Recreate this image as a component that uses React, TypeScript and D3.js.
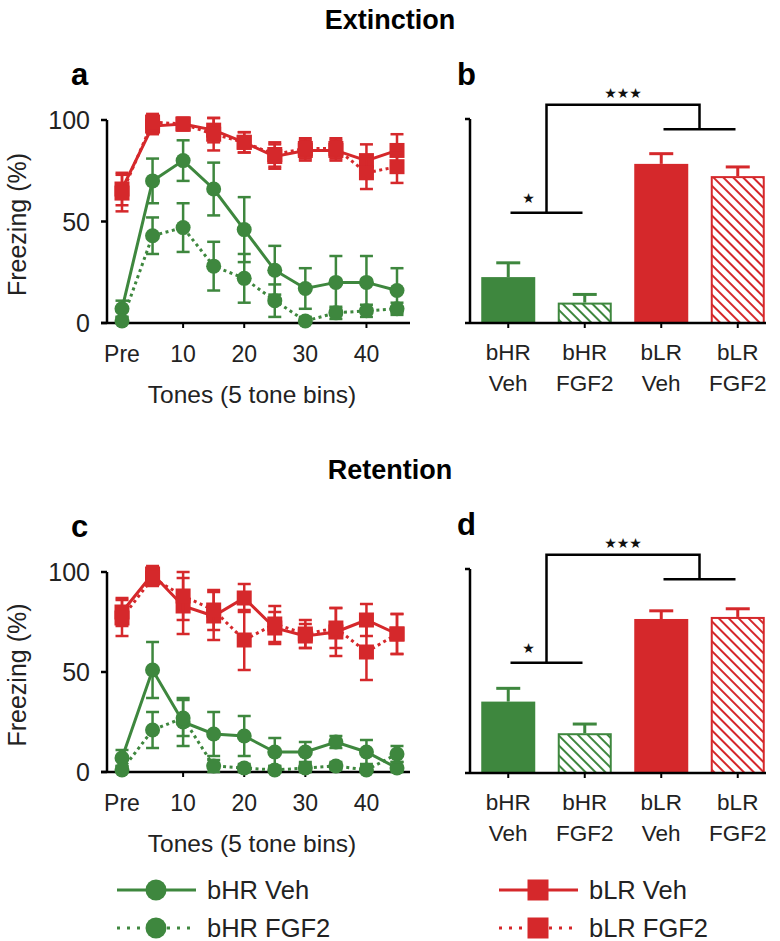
import React from 'react';
import * as d3 from 'd3';

const GREEN = '#3e873e';
const RED = '#d5282b';
const FONT = '"Liberation Sans", Arial, sans-serif';

// x positions of the line panels (5 tone bins, "Pre" = 0)
const toneBins = [0, 5, 10, 15, 20, 25, 30, 35, 40, 45];
const toneTicks = [0, 10, 20, 30, 40];
const toneTickLabels = ['Pre', '10', '20', '30', '40'];
const yTicks = [0, 50, 100];

// extinction (panel a)
const extHRVeh = [7, 70, 80, 66, 46, 26, 17, 20, 20, 16];
const extHRVehErr = [4, 11, 10, 13, 16, 12, 10, 13, 13, 11];
const extHRFgf = [1, 43, 47, 28, 22, 11, 1, 5, 6, 7];
const extHRFgfErr = [2, 9, 12, 12, 12, 8, 2, 3, 3, 3];
const extLRVeh = [66, 97, 98, 95, 89, 82, 85, 85, 80, 85];
const extLRVehErr = [8, 4, 3, 6, 5, 6, 5, 5, 8, 8];
const extLRFgf = [64, 99, 98, 93, 89, 83, 86, 86, 74, 77];
const extLRFgfErr = [9, 4, 3, 8, 5, 6, 5, 5, 8, 8];

// retention (panel c)
const retHRVeh = [7, 51, 25, 19, 18, 10, 10, 15, 10, 2];
const retHRVehErr = [4, 14, 12, 11, 10, 7, 5, 3, 6, 3];
const retHRFgf = [1, 21, 27, 3, 2, 1, 2, 3, 1, 9];
const retHRFgfErr = [2, 9, 9, 3, 2, 2, 2, 2, 2, 4];
const retLRVeh = [80, 99, 83, 78, 87, 72, 68, 70, 76, 69];
const retLRVehErr = [7, 4, 14, 12, 7, 8, 6, 12, 8, 10];
const retLRFgf = [77, 97, 88, 81, 66, 74, 69, 72, 60, 69];
const retLRFgfErr = [9, 4, 12, 10, 15, 9, 7, 10, 14, 10];

// bar panels (b, d)
const groups = ['bHR Veh', 'bHR FGF2', 'bLR Veh', 'bLR FGF2'];
const groupLine1 = ['bHR', 'bHR', 'bLR', 'bLR'];
const groupLine2 = ['Veh', 'FGF2', 'Veh', 'FGF2'];
const extBars = [22.5, 10, 78, 72];
const extBarsErr = [7, 4, 5, 4.5];
const retBars = [35, 19.5, 75.5, 76.5];
const retBarsErr = [6.5, 4.5, 4, 4];
// significance bracket levels (in % units)
const bracketLow = 54;
const bracketHigh = 95;
const bracketTop = 107;

type Series = { mean: number[]; err: number[]; color: string; dotted: boolean; square: boolean };

function makeSeries(hv: number[], hve: number[], hf: number[], hfe: number[], lv: number[], lve: number[], lf: number[], lfe: number[]): Series[] {
  return [
    { mean: hv, err: hve, color: GREEN, dotted: false, square: false },
    { mean: hf, err: hfe, color: GREEN, dotted: true, square: false },
    { mean: lv, err: lve, color: RED, dotted: false, square: true },
    { mean: lf, err: lfe, color: RED, dotted: true, square: true },
  ];
}

const DOTS = '3,3.5';

function Marker({ cx, cy, color, square, size = 15 }: any) {
  if (square) {
    return <rect x={cx - size / 2} y={cy - size / 2} width={size} height={size} fill={color} />;
  }
  return <circle cx={cx} cy={cy} r={size / 2} fill={color} />;
}

function LinePanel({ y0, y100, series, letter }: { y0: number; y100: number; series: Series[]; letter: string }) {
  const x = d3.scaleLinear().domain([0, 45]).range([122, 397]);
  const y = d3.scaleLinear().domain([0, 100]).range([y0, y100]);
  const axisX = 107;
  const line = d3.line<number>().x((d, i) => x(toneBins[i])).y(d => y(d));
  const midY = (y0 + y100) / 2;

  return (
    <g>
      <text x={71} y={y100 - 35} fontSize={31} fontWeight="bold" fontFamily={FONT}>{letter}</text>
      {/* axes */}
      <line x1={axisX} x2={axisX} y1={y100} y2={y0} stroke="#000" strokeWidth={2.5} />
      <line x1={axisX - 6} x2={410} y1={y0} y2={y0} stroke="#000" strokeWidth={2.5} />
      {yTicks.map(t => (
        <g key={t}>
          <line x1={axisX - 6} x2={axisX} y1={y(t)} y2={y(t)} stroke="#000" strokeWidth={2.5} />
          <text x={axisX - 17} y={y(t) + 9} textAnchor="end" fontSize={25} fontFamily={FONT} fill="#222">{t}</text>
        </g>
      ))}
      {toneTicks.map((t, i) => (
        <g key={t}>
          {t > 0 && <line x1={x(t)} x2={x(t)} y1={y0} y2={y0 + 5} stroke="#000" strokeWidth={2} />}
          <text x={x(t)} y={y0 + 39} textAnchor="middle" fontSize={23} fontFamily={FONT} fill="#222">{toneTickLabels[i]}</text>
        </g>
      ))}
      <text x={252} y={y0 + 80} textAnchor="middle" fontSize={24.5} fontFamily={FONT} fill="#222">Tones (5 tone bins)</text>
      <text transform={`translate(26,${midY + 3}) rotate(-90)`} textAnchor="middle" fontSize={25} fontFamily={FONT} fill="#222">Freezing (%)</text>
      {/* series */}
      {series.map((s, si) => (
        <g key={si}>
          {s.mean.map((m, i) => {
            const cx = x(toneBins[i]);
            const lo = y(Math.max(0, m - s.err[i]));
            const hi = y(m + s.err[i]);
            return (
              <g key={i} stroke={s.color} strokeWidth={2.5}>
                <line x1={cx} x2={cx} y1={lo} y2={hi} />
                <line x1={cx - 6.5} x2={cx + 6.5} y1={lo} y2={lo} />
                <line x1={cx - 6.5} x2={cx + 6.5} y1={hi} y2={hi} />
              </g>
            );
          })}
          <path d={line(s.mean) || ''} fill="none" stroke={s.color} strokeWidth={3} strokeDasharray={s.dotted ? DOTS : undefined} />
          {s.mean.map((m, i) => (
            <Marker key={i} cx={x(toneBins[i])} cy={y(m)} color={s.color} square={s.square} />
          ))}
        </g>
      ))}
    </g>
  );
}

function BarPanel({ y0, y100, means, errs, letter }: { y0: number; y100: number; means: number[]; errs: number[]; letter: string }) {
  const x = d3.scalePoint<string>().domain(groups).range([470, 776]).padding(0.5);
  const y = d3.scaleLinear().domain([0, 100]).range([y0, y100]);
  const axisX = 470;
  const bw = 54;
  const colors = [GREEN, GREEN, RED, RED];
  const hatched = [false, true, false, true];
  const pats = ['hatchGreen', 'hatchGreen', 'hatchRed', 'hatchRed'];
  const c = groups.map(g => x(g) as number);
  const leftMid = (c[0] + c[1]) / 2;
  const rightMid = (c[2] + c[3]) / 2;
  const half = 36;

  return (
    <g>
      <text x={457} y={y100 - 34} fontSize={31} fontWeight="bold" fontFamily={FONT}>{letter}</text>
      {groups.map((g, i) => {
        const top = y(means[i]);
        const eTop = y(means[i] + errs[i]);
        const col = colors[i];
        return (
          <g key={g}>
            <line x1={c[i]} x2={c[i]} y1={top} y2={eTop} stroke={col} strokeWidth={3} />
            <line x1={c[i] - 12} x2={c[i] + 12} y1={eTop} y2={eTop} stroke={col} strokeWidth={3} />
            {hatched[i] ? (
              <rect x={c[i] - bw / 2 + 1} y={top + 1} width={bw - 2} height={y0 - top - 1} fill={`url(#${pats[i]})`} stroke={col} strokeWidth={2} />
            ) : (
              <rect x={c[i] - bw / 2} y={top} width={bw} height={y0 - top} fill={col} />
            )}
            <line x1={c[i]} x2={c[i]} y1={y0} y2={y0 + 5} stroke="#000" strokeWidth={2} />
            <text x={c[i]} y={y0 + 37} textAnchor="middle" fontSize={22.5} fontFamily={FONT} fill="#222">{groupLine1[i]}</text>
            <text x={c[i]} y={y0 + 68} textAnchor="middle" fontSize={22.5} fontFamily={FONT} fill="#222">{groupLine2[i]}</text>
          </g>
        );
      })}
      <line x1={axisX} x2={axisX} y1={y100} y2={y0} stroke="#000" strokeWidth={2.5} />
      <line x1={axisX - 5} x2={axisX} y1={y100} y2={y100} stroke="#000" strokeWidth={2.5} />
      <line x1={axisX - 5} x2={766} y1={y0} y2={y0} stroke="#000" strokeWidth={2.5} />
      {/* significance brackets */}
      <g stroke="#000" strokeWidth={2.5} fill="none">
        <line x1={leftMid - half} x2={leftMid + half} y1={y(bracketLow)} y2={y(bracketLow)} />
        <line x1={rightMid - half} x2={rightMid + half} y1={y(bracketHigh)} y2={y(bracketHigh)} />
        <path d={`M${leftMid},${y(bracketLow)}V${y(bracketTop)}H${rightMid}V${y(bracketHigh)}`} />
      </g>
      <text x={leftMid - 18} y={y(bracketLow) - 10} textAnchor="middle" fontSize={14} fontFamily="DejaVu Sans" fill="#111">★</text>
      <text x={(leftMid + rightMid) / 2} y={y(bracketTop) - 7} textAnchor="middle" fontSize={14} fontFamily="DejaVu Sans" fill="#111">★★★</text>
    </g>
  );
}

function Legend() {
  const rows = [
    { x: 117, y: 890, color: GREEN, dotted: false, square: false, label: 'bHR Veh' },
    { x: 117, y: 928, color: GREEN, dotted: true, square: false, label: 'bHR FGF2' },
    { x: 499, y: 890, color: RED, dotted: false, square: true, label: 'bLR Veh' },
    { x: 499, y: 928, color: RED, dotted: true, square: true, label: 'bLR FGF2' },
  ];
  return (
    <g>
      {rows.map(r => (
        <g key={r.label}>
          <line x1={r.x} x2={r.x + 79} y1={r.y} y2={r.y} stroke={r.color} strokeWidth={3} strokeDasharray={r.dotted ? '3,7' : undefined} />
          <Marker cx={r.x + 39} cy={r.y} color={r.color} square={r.square} size={21} />
          <text x={r.x + 90} y={r.y + 9} fontSize={25.5} fontFamily={FONT} fill="#222">{r.label}</text>
        </g>
      ))}
    </g>
  );
}

export default function App() {
  const extSeries = makeSeries(extHRVeh, extHRVehErr, extHRFgf, extHRFgfErr, extLRVeh, extLRVehErr, extLRFgf, extLRFgfErr);
  const retSeries = makeSeries(retHRVeh, retHRVehErr, retHRFgf, retHRFgfErr, retLRVeh, retLRVehErr, retLRFgf, retLRFgfErr);
  return (
    <svg width={780} height={941} style={{ position: 'absolute', left: 0, top: 0, background: '#fff' }}>
      <defs>
        <pattern id="hatchGreen" patternUnits="userSpaceOnUse" width={7} height={7} patternTransform="rotate(-45)">
          <rect width={7} height={7} fill="#fff" />
          <line x1={0} y1={0} x2={0} y2={7} stroke={GREEN} strokeWidth={4} />
        </pattern>
        <pattern id="hatchRed" patternUnits="userSpaceOnUse" width={7} height={7} patternTransform="rotate(-45)">
          <rect width={7} height={7} fill="#fff" />
          <line x1={0} y1={0} x2={0} y2={7} stroke={RED} strokeWidth={4} />
        </pattern>
      </defs>
      <text x={390} y={29} textAnchor="middle" fontSize={27} fontWeight="bold" fontFamily={FONT}>Extinction</text>
      <text x={390} y={479} textAnchor="middle" fontSize={27} fontWeight="bold" fontFamily={FONT}>Retention</text>
      <LinePanel y0={323} y100={120} series={extSeries} letter="a" />
      <BarPanel y0={323} y100={119} means={extBars} errs={extBarsErr} letter="b" />
      <LinePanel y0={772} y100={572} series={retSeries} letter="c" />
      <BarPanel y0={773} y100={569} means={retBars} errs={retBarsErr} letter="d" />
      <Legend />
    </svg>
  );
}
